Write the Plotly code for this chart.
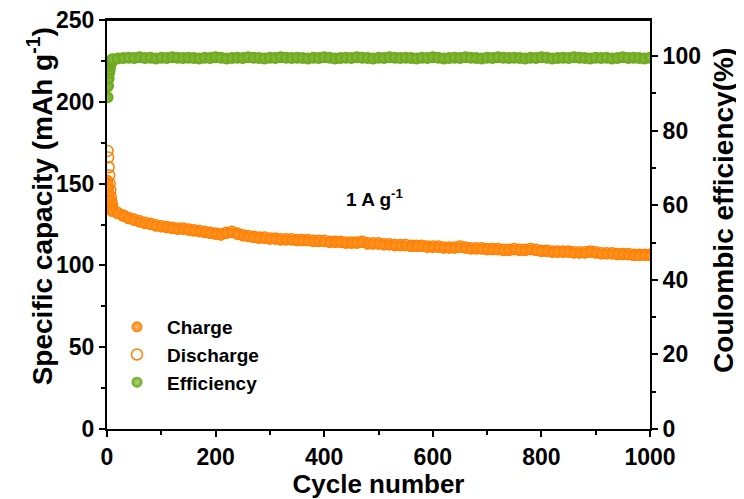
import plotly.graph_objects as go

cycles = list(range(1, 11)) + list(range(20, 1001, 10))

charge = [152, 150, 147, 143, 140, 137, 135, 134, 133, 133,
          131.5, 130, 128.5, 127.5, 126.5, 125.5, 125, 124, 123.5,
          123, 122.5, 122, 122, 121.5, 121, 120.5, 120, 119.5, 119,
          118.5, 119.5, 120, 119, 118, 117.5, 117, 116.5, 116.5, 116,
          116, 115.5, 115.5, 115.5, 115, 115, 115, 114.5, 114.5, 114.5,
          114, 114, 114, 113.5, 113.5, 113.5, 114, 113, 113, 113,
          112.5, 112.5, 112, 112, 112, 111.5, 111.5, 111.5, 111, 111,
          111, 110.5, 110.5, 110.5, 111, 110.5, 110, 110, 110, 109.5,
          109.5, 109.5, 109, 109, 109.5, 109, 109, 109.5, 109, 108.5,
          108.5, 108, 108, 108, 108, 107.5, 107.5, 107.5, 108, 107.5,
          107, 107, 107, 106.5, 106.5, 106.5, 106, 106, 106, 106]

discharge = [170, 166, 160, 155, 150, 146, 142, 139, 137, 135,
             132, 130.5, 129, 128, 127, 126, 125.5, 124.5, 124,
             123.5, 123, 122.5, 122.5, 122, 121.5, 121, 120.5, 120, 119.5,
             119, 120, 120.5, 119.5, 118.5, 118, 117.5, 117, 117, 116.5,
             116.5, 116, 116, 116, 115.5, 115.5, 115.5, 115, 115, 115,
             114.5, 114.5, 114.5, 114, 114, 114, 114.5, 113.5, 113.5, 113.5,
             113, 113, 112.5, 112.5, 112.5, 112, 112, 112, 111.5, 111.5,
             111.5, 111, 111, 111, 111.5, 111, 110.5, 110.5, 110.5, 110,
             110, 110, 109.5, 109.5, 110, 109.5, 109.5, 110, 109.5, 109,
             109, 108.5, 108.5, 108.5, 108.5, 108, 108, 108, 108.5, 108,
             107.5, 107.5, 107.5, 107, 107, 107, 106.5, 106.5, 106.5, 106.5]

efficiency = [89, 92, 94, 95.5, 96.5, 97.5, 98, 98.5, 99, 99.2,
              99.4, 99.5, 99.6, 99.5, 99.7, 99.5, 99.6, 99.4, 99.6,
              99.5, 99.7, 99.6, 99.5, 99.6, 99.5, 99.4, 99.6, 99.5, 99.7,
              99.6, 99.4, 99.5, 99.6, 99.5, 99.7, 99.6, 99.5, 99.4, 99.6,
              99.5, 99.7, 99.6, 99.5, 99.6, 99.5, 99.4, 99.6, 99.5, 99.7,
              99.6, 99.4, 99.5, 99.6, 99.5, 99.7, 99.6, 99.5, 99.4, 99.6,
              99.5, 99.7, 99.6, 99.5, 99.6, 99.5, 99.4, 99.6, 99.5, 99.7,
              99.6, 99.4, 99.5, 99.6, 99.5, 99.7, 99.6, 99.5, 99.4, 99.6,
              99.5, 99.7, 99.6, 99.5, 99.6, 99.5, 99.4, 99.6, 99.5, 99.7,
              99.6, 99.4, 99.5, 99.6, 99.5, 99.7, 99.6, 99.5, 99.4, 99.6,
              99.5, 99.6, 99.4, 99.5, 99.7, 99.5, 99.6, 99.5, 99.4, 99.6]

x_ticks = [0, 200, 400, 600, 800, 1000]
left_ticks = [0, 50, 100, 150, 200, 250]
right_ticks = [0, 20, 40, 60, 80, 100]

ORANGE = "#ff7f00"
GREEN = "#6aa51a"
FONT = "Liberation Sans"
MS = 11

n = min(len(cycles), len(charge), len(discharge), len(efficiency))
cyc = cycles[:n]

fig = go.Figure()
fig.add_trace(go.Scatter(
    x=cyc, y=efficiency[:n], mode="markers", name="Efficiency", yaxis="y2",
    marker=dict(size=MS + 1, color=GREEN, line=dict(width=0),
                gradient=dict(type="radial", color="#8cc040")),
    showlegend=False))
fig.add_trace(go.Scatter(
    x=cyc, y=discharge[:n], mode="markers", name="Discharge",
    marker=dict(size=MS, symbol="circle-open", color=ORANGE,
                line=dict(width=1.5, color=ORANGE)),
    showlegend=False))
fig.add_trace(go.Scatter(
    x=cyc, y=charge[:n], mode="markers", name="Charge",
    marker=dict(size=MS, color=ORANGE, line=dict(width=0),
                gradient=dict(type="radial", color="#ff9a30")),
    showlegend=False))

# legend entries (ordered)
fig.add_trace(go.Scatter(x=[None], y=[None], mode="markers", name="<b>Charge</b>",
                         marker=dict(size=11, color=ORANGE,
                                     gradient=dict(type="radial", color="#ffc080"))))
fig.add_trace(go.Scatter(x=[None], y=[None], mode="markers", name="<b>Discharge</b>",
                         marker=dict(size=11, symbol="circle-open", color=ORANGE,
                                     line=dict(width=1.5, color=ORANGE))))
fig.add_trace(go.Scatter(x=[None], y=[None], mode="markers", name="<b>Efficiency</b>",
                         marker=dict(size=11, color=GREEN,
                                     gradient=dict(type="radial", color="#b0d880"))))

axis_common = dict(showline=True, linecolor="black", linewidth=2,
                   ticks="outside", ticklen=6, tickwidth=2, tickcolor="black",
                   showgrid=False, zeroline=False, ticklabeloverflow="allow",
                   tickfont=dict(family=FONT, size=23, color="black"))
minor_common = dict(ticklen=4, tickwidth=2, ticks="outside", tickcolor="black")

fig.update_layout(
    width=736, height=491,
    margin=dict(l=99, r=94, t=12, b=70, autoexpand=False),
    plot_bgcolor="white", paper_bgcolor="white",
    font=dict(family=FONT, color="black"),
    xaxis=dict(range=[0, 1000], tickvals=x_ticks,
               ticktext=[f"<b>{v}</b>" for v in x_ticks], mirror=True,
               minor=dict(dtick=100, **minor_common),
               title=dict(text="<b>Cycle number</b>", font=dict(family=FONT, size=26), standoff=0),
               **axis_common),
    yaxis=dict(range=[0, 250], tickvals=left_ticks,
               ticktext=[f"<b>{v}</b>" for v in left_ticks],
               minor=dict(dtick=25, **minor_common),
               **axis_common),
    yaxis2=dict(range=[0, 109.7], tickvals=right_ticks,
                ticktext=[f"<b>{v}</b>" for v in right_ticks],
                overlaying="y", side="right",
                minor=dict(dtick=10, **minor_common),
                **axis_common),
    legend=dict(x=0.0, y=0.296, xanchor="left", yanchor="top",
                bgcolor="rgba(0,0,0,0)", itemwidth=50, tracegroupgap=0,
                font=dict(family=FONT, size=19, color="black")),
    shapes=[dict(type="line", xref="paper", yref="paper", x0=0, x1=1, y0=1, y1=1,
                 line=dict(color="black", width=2))],
    annotations=[
        dict(x=493, y=141, xref="x", yref="y", showarrow=False,
             text="<b>1 A g<sup>-1</sup></b>",
             font=dict(family=FONT, size=19, color="black")),
        dict(x=-0.123, y=0.545, xref="paper", yref="paper", showarrow=False,
             textangle=-90, xanchor="center", yanchor="middle",
             text="<b>Specific capacity (mAh g<sup>-1</sup>)</b>",
             font=dict(family=FONT, size=28, color="black")),
        dict(x=1.134, y=0.535, xref="paper", yref="paper", showarrow=False,
             textangle=-90, xanchor="center", yanchor="middle",
             text="<b>Coulombic efficiency(%)</b>",
             font=dict(family=FONT, size=28, color="black")),
    ],
)

fig.write_html("out.html")
